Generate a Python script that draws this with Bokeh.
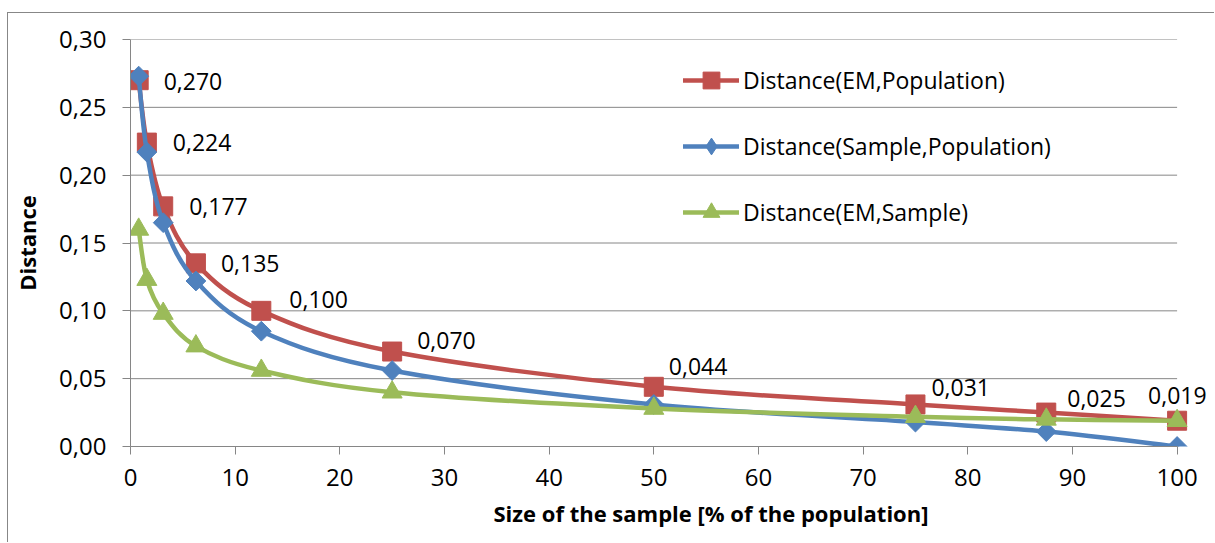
import numpy as np
from bokeh.plotting import figure
from bokeh.models import (Range1d, FixedTicker, CustomJSTickFormatter, Legend,
                          LegendItem, ColumnDataSource, LabelSet, Title)
from bokeh.core.properties import value
from bokeh.embed import file_html
from bokeh.resources import INLINE

# ---------------- data ----------------
sample_pct = [0.78125, 1.5625, 3.125, 6.25, 12.5, 25, 50, 75, 87.5, 100]
dist_em_pop = [0.270, 0.224, 0.177, 0.135, 0.100, 0.070, 0.044, 0.031, 0.025, 0.019]
dist_sample_pop = [0.273, 0.217, 0.165, 0.122, 0.085, 0.056, 0.031, 0.018, 0.011, 0.000]
dist_em_sample = [0.160, 0.123, 0.098, 0.074, 0.056, 0.040, 0.028, 0.022, 0.020, 0.019]
series_names = ["Distance(EM,Population)", "Distance(Sample,Population)", "Distance(EM,Sample)"]
x_ticks = [0, 10, 20, 30, 40, 50, 60, 70, 80, 90, 100]
y_ticks = [0.0, 0.05, 0.10, 0.15, 0.20, 0.25, 0.30]
x_title = "Size of the sample [% of the population]"
y_title = "Distance"

# label placement (screen px) for the data labels of the first series
label_dx = [25, 26, 26, 25, 28, 25, 15, 16, 21, -29]
label_dy = [-1, 0, 0, 0, 11, 11, 20, 17, 14, 25]

# ---------------- style ----------------
FONT = "Open Sans"
GRAY = "#868686"
RED, BLUE, GREEN = "#C0504D", "#4F81BD", "#9BBB59"
TICK_SIZE = "24px"
TEXT_SIZE = "23px"
TITLE_SIZE = "22px"


def smooth_segments(xs, ys):
    """Bezier control points (Catmull-Rom style, as in spreadsheet smoothing)."""
    x = np.asarray(xs, float)
    y = np.asarray(ys, float)
    n = len(x)
    xp = np.concatenate([[x[0]], x, [x[-1]]])
    yp = np.concatenate([[y[0]], y, [y[-1]]])
    seg = dict(x0=[], y0=[], x1=[], y1=[], cx0=[], cy0=[], cx1=[], cy1=[])
    for i in range(n - 1):
        p0x, p0y = xp[i], yp[i]
        p1x, p1y = xp[i + 1], yp[i + 1]
        p2x, p2y = xp[i + 2], yp[i + 2]
        p3x, p3y = xp[i + 3], yp[i + 3]
        seg["x0"].append(p1x); seg["y0"].append(p1y)
        seg["x1"].append(p2x); seg["y1"].append(p2y)
        seg["cx0"].append(p1x + (p2x - p0x) / 6.0); seg["cy0"].append(p1y + (p2y - p0y) / 6.0)
        seg["cx1"].append(p2x - (p3x - p1x) / 6.0); seg["cy1"].append(p2y - (p3y - p1y) / 6.0)
    return ColumnDataSource(seg)


x_lo, x_hi = x_ticks[0], x_ticks[-1]
y_lo, y_hi = y_ticks[0], y_ticks[-1]

# the x range reaches past 100 so the last markers and labels are not cut off;
# the axis line and the grid lines still stop at 100
p = figure(width=1207, height=530, x_range=Range1d(x_lo, x_hi + 3), y_range=Range1d(y_lo, y_hi),
           output_backend="svg", toolbar_location=None,
           min_border_left=122, min_border_right=7, min_border_top=26, min_border_bottom=97)
p.styles = {"margin-left": "7px", "margin-top": "12px",
            "border-left": "1px solid #878787", "border-top": "1px solid #878787"}
p.outline_line_color = None
p.background_fill_color = "white"
p.border_fill_color = "white"

p.xgrid.visible = False
p.ygrid.visible = False
p.segment(x0=[x_lo] * len(y_ticks), x1=[x_hi] * len(y_ticks), y0=y_ticks, y1=y_ticks,
          line_color=GRAY, line_width=1)

p.xaxis.ticker = FixedTicker(ticks=x_ticks)
p.xaxis.bounds = (x_lo, x_hi)
p.yaxis.ticker = FixedTicker(ticks=y_ticks)
p.yaxis.formatter = CustomJSTickFormatter(code="return tick.toFixed(2).replace('.', ',');")
for ax in (p.xaxis[0], p.yaxis[0]):
    ax.axis_line_color = GRAY
    ax.major_tick_line_color = GRAY
    ax.minor_tick_line_color = None
    ax.major_tick_in = 0
    ax.major_tick_out = 8
    ax.major_label_text_font = FONT
    ax.major_label_text_font_size = TICK_SIZE
    ax.major_label_text_color = "black"
    ax.axis_label_text_font = FONT
    ax.axis_label_text_font_size = TITLE_SIZE
    ax.axis_label_text_font_style = "bold"
    ax.axis_label_text_color = "black"
p.yaxis.axis_label = y_title
p.xaxis.major_label_standoff = 14
p.yaxis.major_label_standoff = 16
p.yaxis.axis_label_standoff = 14

p.add_layout(Title(text=x_title, align="left", offset=363, standoff=15,
                   text_font=FONT, text_font_size=TITLE_SIZE, text_font_style="bold",
                   text_color="black"), "below")

series = [
    (dist_em_pop, RED, dict(marker="square", size=19, angle=0.0), "square"),
    (dist_sample_pop, BLUE, dict(marker="square", size=14, angle=np.pi / 4), "diamond"),
    (dist_em_sample, GREEN, dict(marker="triangle", size=20, angle=0.0), "triangle"),
]

legend_items = []
for (ys, color, mk, legend_marker), name in zip(series, series_names):
    src = smooth_segments(sample_pct, ys)
    p.bezier(x0="x0", y0="y0", x1="x1", y1="y1", cx0="cx0", cy0="cy0", cx1="cx1", cy1="cy1",
             source=src, line_color=color, line_width=4.5, line_cap="round", line_join="round")
    p.scatter(x=sample_pct, y=ys, marker=mk["marker"], size=mk["size"], angle=mk["angle"],
              fill_color=color, line_color=color, line_width=1)
    # legend-only glyphs (no visible data)
    lr = p.line(x=[np.nan], y=[np.nan], line_color=color, line_width=4.5, line_cap="round")
    sr = p.scatter(x=[np.nan], y=[np.nan], marker=legend_marker, fill_color=color, line_color=color)
    legend_items.append(LegendItem(label=name, renderers=[lr, sr]))

lab_src = ColumnDataSource(dict(
    x=sample_pct, y=dist_em_pop,
    text=[f"{v:.3f}".replace(".", ",") for v in dist_em_pop],
    dx=label_dx, dy=label_dy))
labels = LabelSet(x="x", y="y", text="text", x_offset="dx", y_offset="dy", source=lab_src,
                  text_font=value(FONT), text_font_size=value(TEXT_SIZE), text_color="black",
                  text_align="left", text_baseline="middle")
p.add_layout(labels)

legend = Legend(items=legend_items, location=(553, 213), orientation="vertical",
                glyph_width=56, glyph_height=42, label_height=42, spacing=24,
                label_standoff=4, padding=0, margin=0,
                background_fill_alpha=0, border_line_alpha=0,
                label_text_font=FONT, label_text_font_size=TEXT_SIZE,
                label_text_color="black")
p.add_layout(legend)

open("out.html", "w").write(file_html(p, INLINE))
